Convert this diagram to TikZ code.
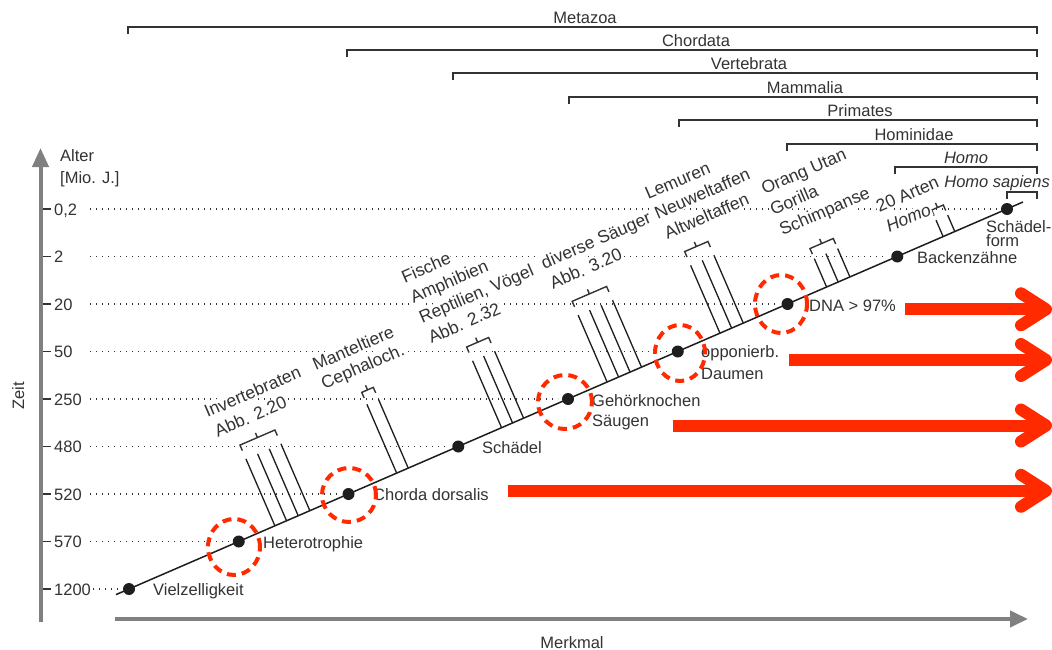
\documentclass[tikz,border=0pt]{standalone}
\usepackage{fontspec}
\setmainfont{Liberation Sans}
\usetikzlibrary{arrows.meta}
\definecolor{txtc}{HTML}{333333}
\definecolor{axc}{HTML}{808080}
\definecolor{redc}{HTML}{FF2A00}
\definecolor{lnc}{HTML}{1E1E1E}
\begin{document}
\begin{tikzpicture}[x=1pt,y=-1pt,
  every node/.style={text=txtc, font=\fontsize{16.5}{20}\selectfont, inner sep=0pt},
  clademark/.style={draw=txtc, line width=1.4pt},
  axisline/.style={draw=axc, line width=4pt},
  tickline/.style={draw=txtc, line width=1.4pt},
  guideline/.style={draw=txtc, line width=1.3pt, dash pattern=on 1.3pt off 4.7pt},
  mainline/.style={draw=lnc, line width=1.5pt},
  twig/.style={draw=lnc, line width=1.3pt},
  bead/.style={circle, fill=lnc, minimum size=12pt, inner sep=0pt},
  redring/.style={draw=redc, line width=4pt, dash pattern=on 9pt off 6pt},
  redshaft/.style={draw=redc, line width=12pt},
  redchevron/.style={draw=redc, line width=12pt, line cap=round, line join=round},
  blocktext/.style={anchor=base west, rotate=23.4, fill=white, inner sep=1pt,
    font=\fontsize{17.5}{21}\selectfont},
  ptlabel/.style={anchor=base west}
]
\fill[white] (0,0) rectangle (1052,650);
\useasboundingbox (0,0) rectangle (1052,650);

% ---- clade brackets at the top
\foreach \lab/\xl/\yl/\xt [count=\i] in {Metazoa/128/27/585, Chordata/347/50/696,
   Vertebrata/453/73/749, Mammalia/569/97/805, Primates/679/120/860,
   Hominidae/787/144/914, {\textit{Homo}}/895/167/966} {
  \coordinate (cl\i) at (\xl,\yl);
  \coordinate (cr\i) at (1037,\yl);
  \draw[clademark] ([yshift=-7pt]cl\i) -- (cl\i) -- (cr\i) -- ([yshift=-7pt]cr\i);
  \node[anchor=base] (ct\i) at (\xt,\yl-3) {\lab};
}
\coordinate (cl8) at (1007,192);
\coordinate (cr8) at (1037,192);
\draw[clademark] ([yshift=-7pt]cl8) -- (cl8) -- (cr8) -- ([yshift=-7pt]cr8);
\node[anchor=base east] (ct8) at (1050,187) {\textit{Homo sapiens}};

% ---- axes
\coordinate (ya0) at (40.5,622);
\coordinate (ya1) at (40.5,148);
\draw[axisline, -{Triangle[length=19pt,width=16pt]}] (ya0) -- (ya1);
\coordinate (xa0) at (115,619);
\coordinate (xa1) at (1028,619);
\draw[axisline, -{Triangle[length=18pt,width=16pt]}] (xa0) -- (xa1);
\node[anchor=base west] (alt1) at (60,161.7) {Alter};
\node[anchor=base west] (alt2) at (60,183.3) {[Mio. J.]};
\node[anchor=base, rotate=90] (zeit) at (24,396) {Zeit};
\node[anchor=base] (merk) at (572,648) {Merkmal};

% ---- time levels, ticks, dotted guides
\foreach \val/\yy [count=\i from 0] in {1200/589, 570/541.5, 520/494, 480/446.5,
   250/399, 50/351.5, 20/304, 2/256.5, {0,2}/209} {
  \coordinate (tk\i) at (42.5,\yy);
  \draw[tickline] (tk\i) -- ++(8.5,0);
  \node[anchor=base west] (tl\i) at (54,\yy+6) {\val};
  \pgfmathsetmacro{\xs}{ifthenelse(\i==0,93,90)}
  \pgfmathsetmacro{\xe}{129+109.75*\i-10}
  \draw[guideline] (\xs,\yy) -- (\xe,\yy);
}

% ---- main line
\coordinate (ms) at (116,594.6);
\coordinate (me) at (1023,202);
\draw[mainline] (ms) -- (me);

% ---- side branches, brackets and group names (frame along the main line)
\begin{scope}[shift={(129,589)}, y=1pt, rotate=23.4]
  \foreach \u/\L in {159/73, 171.7/73, 184.4/73, 197.1/73,
     291.7/75, 304.3/75,
     406/73, 418/73, 430/73,
     521/73, 533.5/73, 546/73, 558.5/73,
     644/74, 656.7/74, 669.4/74,
     760.2/31, 772.8/31, 785.6/31,
     887.2/18, 899.9/18}
    \draw[twig] (\u,0) -- (\u,\L);
  \foreach \a/\b/\v in {159/197.1/88, 291.7/304.3/88, 406/430/88, 521/558.5/88,
     644/669.4/89, 760.2/785.6/42, 887.2/899.9/29}
    \draw[clademark] (\a,\v-6) -- (\a,\v) -- (\b,\v) -- (\b,\v-6)
      ({(\a+\b)/2},\v) -- ({(\a+\b)/2},\v+5);
  % group names
  \node[blocktext] (g1a) at (139,125.8) {Invertebraten};
  \node[blocktext] (g1b) at (140.5,103.8) {Abb. 2.20};
  \node[blocktext] (g2a) at (257,126) {Manteltiere};
  \node[blocktext] (g2b) at (257.3,105.5) {Cephaloch.};
  \node[blocktext] (g3a) at (373.3,171) {Fische};
  \node[blocktext] (g3b) at (373.5,149) {Amphibien};
  \node[blocktext] (g3c) at (373.5,127) {Reptilien, Vögel};
  \node[blocktext] (g3d) at (374,105) {Abb. 2.32};
  \node[blocktext] (g4a) at (507,128.5) {diverse Säuger};
  \node[blocktext] (g4b) at (507,106.5) {Abb. 3.20};
  \node[blocktext] (g5a) at (630,151) {Lemuren};
  \node[blocktext] (g5b) at (631,129) {Neuweltaffen};
  \node[blocktext] (g5c) at (632,107) {Altweltaffen};
  \node[blocktext] (g6a) at (738.7,109.5) {Orang Utan};
  \node[blocktext] (g6b) at (738.5,87) {Gorilla};
  \node[blocktext] (g6c) at (739,64.5) {Schimpanse};
  \node[blocktext] (g7a) at (837,47.3) {20 Arten};
  \node[blocktext] (g7b) at (838.2,25) {\textit{Homo}};
\end{scope}

% ---- character points on the main line
\foreach \i in {0,...,8}
  \node[bead] (d\i) at ({129+109.75*\i},{589-47.5*\i}) {};
\node[ptlabel] (p0) at (153,595.5) {Vielzelligkeit};
\node[ptlabel] (p1) at (263,548) {Heterotrophie};
\node[ptlabel] (p2) at (373,500) {Chorda dorsalis};
\node[ptlabel] (p3) at (482,453) {Schädel};
\node[ptlabel] (p4a) at (592,406) {Gehörknochen};
\node[ptlabel] (p4b) at (592,426) {Säugen};
\node[ptlabel] (p5a) at (701,357) {opponierb.};
\node[ptlabel] (p5b) at (701,379) {Daumen};
\node[ptlabel] (p6) at (809,311) {DNA > 97\%};
\node[ptlabel] (p7) at (917,263) {Backenzähne};
\node[ptlabel] (p8a) at (986,232) {Schädel-};
\node[ptlabel] (p8b) at (986,246.5) {form};

% ---- red highlights
\foreach \cx/\cy/\rx/\ry in {234/547/26/28, 349/495/27/27, 565/402/27/27,
   680/353/25/28, 781/304/26/29}
  \draw[redring] (\cx,\cy) ellipse [x radius=\rx pt, y radius=\ry pt];
\foreach \xs/\yy [count=\k] in {905/309.3, 789/360, 673/425.5, 508/490.8} {
  \coordinate (ra\k) at (\xs,\yy);
  \coordinate (rt\k) at (1046,\yy);
  \draw[redshaft] (ra\k) -- (rt\k);
  \draw[redchevron] ([xshift=-25pt,yshift=16pt]rt\k) -- (rt\k) -- ([xshift=-25pt,yshift=-16pt]rt\k);
}
\end{tikzpicture}
\end{document}
